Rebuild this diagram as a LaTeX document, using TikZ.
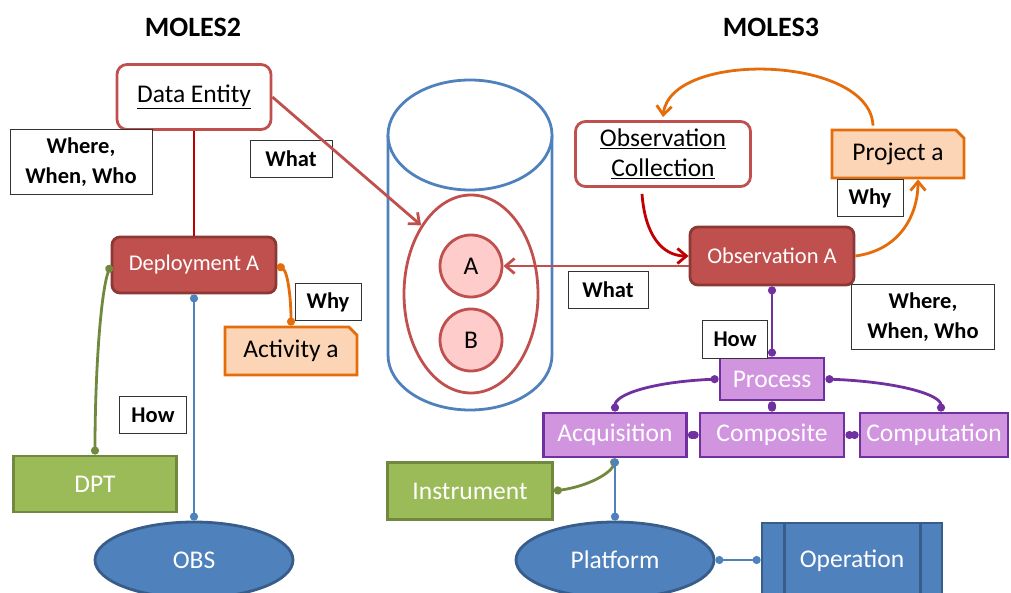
\documentclass[tikz,border=0pt]{standalone}
\usepackage{fontspec}
\setmainfont{Carlito}
\usetikzlibrary{shapes.geometric,shapes.misc,arrows.meta}

\definecolor{redfill}{HTML}{C0504D}
\definecolor{redline}{HTML}{8C3836}
\definecolor{darkred}{HTML}{C00000}
\definecolor{orangeline}{HTML}{E46C0A}
\definecolor{peach}{HTML}{FBD5B5}
\definecolor{greenfill}{HTML}{9BBB59}
\definecolor{greenline}{HTML}{71893F}
\definecolor{bluefill}{HTML}{4F81BD}
\definecolor{blueline}{HTML}{385D8A}
\definecolor{purplefill}{HTML}{D195E0}
\definecolor{purpleline}{HTML}{7030A0}
\definecolor{pinkfill}{HTML}{FFCCCC}

\newcommand{\bigtext}{\fontsize{25.5}{30}\selectfont}
\newcommand{\midtext}{\fontsize{22.5}{27}\selectfont}
\newcommand{\tagtext}{\fontsize{22.5}{30}\selectfont\bfseries}
\newcommand{\headtext}{\fontsize{28}{32}\selectfont\bfseries}

\begin{document}
\begin{tikzpicture}[x=1pt,y=-1pt,
    entity/.style={rectangle, draw=redfill, line width=2.8pt, fill=white,
        rounded corners=10pt, font=\bigtext, align=center, inner sep=0pt},
    instance/.style={rectangle, draw=redline, line width=2.8pt, fill=redfill,
        rounded corners=8pt, text=white, font=\midtext, inner sep=0pt},
    reason/.style={chamfered rectangle, chamfered rectangle corners=north east,
        chamfered rectangle xsep=5pt, draw=orangeline, fill=peach,
        line width=2.8pt, font=\bigtext, inner sep=0pt},
    tool/.style={rectangle, draw=greenline, fill=greenfill, line width=2.8pt,
        text=white, font=\bigtext, inner sep=0pt},
    platform/.style={ellipse, draw=blueline, fill=bluefill, line width=2.8pt,
        text=white, font=\bigtext, inner sep=0pt, minimum width=198pt, minimum height=76pt},
    procbox/.style={rectangle, draw=purpleline, fill=purplefill, line width=2.8pt,
        text=white, font=\bigtext, inner sep=0pt, minimum height=44pt},
    tag/.style={rectangle, draw=black!80, line width=0.9pt, fill=white,
        font=\tagtext, align=center, inner sep=0pt, minimum height=37pt},
    link/.style={line width=2.8pt, {Circle[length=8pt]}-{Circle[length=8pt]}},
    flow/.style={line width=2.8pt, -{Straight Barb[length=9pt,width=15pt,line width=2.8pt]}}]
        \useasboundingbox (0,0) rectangle (1011,593);
        \clip (0,0) rectangle (1011,593);

        % Titles
        \node (moles2) at (193,27) {\headtext MOLES2};
        \node (moles3) at (771,27) {\headtext MOLES3};

        % Drawing the store
        \draw [draw=bluefill, line width=2.8pt] (388,135) -- (388,355)
            .. controls (388,385.4) and (424.7,410) .. (470,410)
            .. controls (515.3,410) and (552,385.4) .. (552,355) -- (552,135);
        \draw [draw=bluefill, line width=2.8pt, fill=white] (470,135) ellipse [x radius=82, y radius=55];
        \node [ellipse, draw=redfill, line width=2.8pt, minimum width=134pt, minimum height=198pt,
            inner sep=0pt] (set) at (471,294) {};
        \node [circle, draw=redfill, fill=pinkfill, line width=2.8pt, minimum size=62pt,
            inner sep=0pt, font=\bigtext] (a) at (471,266) {A};
        \node [circle, draw=redfill, fill=pinkfill, line width=2.8pt, minimum size=62pt,
            inner sep=0pt, font=\bigtext] (b) at (471,340) {B};

        % MOLES2 side
        \node [entity, minimum width=154pt, minimum height=65pt] (de) at (194,97) {\underline{Data Entity}};
        \node [instance, minimum width=164pt, minimum height=56pt] (dep) at (194,265) {Deployment A};
        \node [reason, minimum width=132pt, minimum height=48pt] (act) at (291,351) {Activity a};
        \node [tool, minimum width=163pt, minimum height=56pt] (dpt) at (95,484) {DPT};
        \node [platform] (obs) at (194,560) {OBS};

        \node [tag, minimum width=142pt, minimum height=65pt] (www1) at (81,162) {Where,\\When, Who};
        \node [tag, minimum width=82pt] (what1) at (291,159) {What};
        \node [tag, minimum width=66pt] (why1) at (328,302) {Why};
        \node [tag, minimum width=67pt] (how1) at (153,415) {How};

        \draw [draw=darkred, line width=2.8pt] (de.south) -- (dep.north);
        \draw [flow, draw=redfill] (de.east) -- (set.126);
        \draw [link, draw=greenline] (dep.west) .. controls (100,295) and (95,380) .. (dpt.north);
        \draw [link, draw=orangeline] (dep.east) .. controls (288,272) and (291,300) .. (act.north);
        \draw [link, draw=bluefill] (dep.south) -- (obs.north);

        % MOLES3 side
        \node [entity, minimum width=175pt, minimum height=65pt] (oc) at (663,154)
            {\underline{Observation}\\\underline{Collection}};
        \node [reason, minimum width=132pt, minimum height=48pt] (proj) at (898,154) {Project a};
        \node [instance, minimum width=164pt, minimum height=58pt] (obsa) at (772,256) {Observation A};
        \node [procbox, minimum width=104pt, minimum height=42pt] (proc) at (772,379) {Process};
        \node [procbox, minimum width=143pt] (acq) at (615,435) {Acquisition};
        \node [procbox, minimum width=144pt] (comp) at (772,435) {Composite};
        \node [procbox, minimum width=148pt] (calc) at (934,435) {Computation};
        \node [tool, minimum width=165pt, minimum height=57pt] (inst) at (470,491) {Instrument};
        \node [platform] (plat) at (615,560) {Platform};
        \node [rectangle, draw=blueline, fill=bluefill, line width=2.8pt, text=white, font=\bigtext,
            minimum width=180pt, minimum height=76pt, inner sep=0pt] (op) at (852,561) {Operation};
        \draw [draw=blueline, line width=2.8pt] ([xshift=24pt]op.north west) -- ([xshift=24pt]op.south west);
        \draw [draw=blueline, line width=2.8pt] ([xshift=-23pt]op.north east) -- ([xshift=-23pt]op.south east);

        \node [tag, minimum width=80pt] (what2) at (608,290) {What};
        \node [tag, minimum width=66pt] (why2) at (870,198) {Why};
        \node [tag, minimum width=143pt, minimum height=65pt] (www2) at (923,317) {Where,\\When, Who};
        \node [tag, minimum width=65pt, minimum height=38pt] (how2) at (735,339) {How};

        \draw [flow, draw=redfill] (a.east -| obsa.west) -- (a.east);
        \draw [flow, draw=darkred] ([xshift=-21pt,yshift=-6pt]oc.south) .. controls (645,235) and (662,256) .. (obsa.west);
        \draw [flow, draw=orangeline] ([xshift=-25pt,yshift=3pt]proj.north) .. controls (870,55) and (670,50) .. ([yshift=3pt]oc.north);
        \draw [flow, draw=orangeline] (obsa.east) .. controls (900,250) and (918,215) .. ([xshift=20pt]proj.south);
        \draw [link, draw=purpleline] (obsa.south) -- (proc.north);
        \draw [link, draw=purpleline] (proc.west) .. controls (650,382) and (615,395) .. (acq.north);
        \draw [link, draw=purpleline] (proc.east) .. controls (900,382) and (941,395) .. ([xshift=7pt]calc.north);
        \draw [link, draw=purpleline] (proc.south) -- (comp.north);
        \draw [link, draw=purpleline] (acq.east) -- (comp.west);
        \draw [link, draw=purpleline] (comp.east) -- (calc.west);
        \draw [link, draw=greenline] (inst.east) .. controls (590,486) and (612,472) .. (acq.south);
        \draw [link, draw=bluefill] (acq.south) -- (plat.north);
        \draw [link, draw=bluefill] (plat.east) -- (plat.east -| op.west);
\end{tikzpicture}
\end{document}
